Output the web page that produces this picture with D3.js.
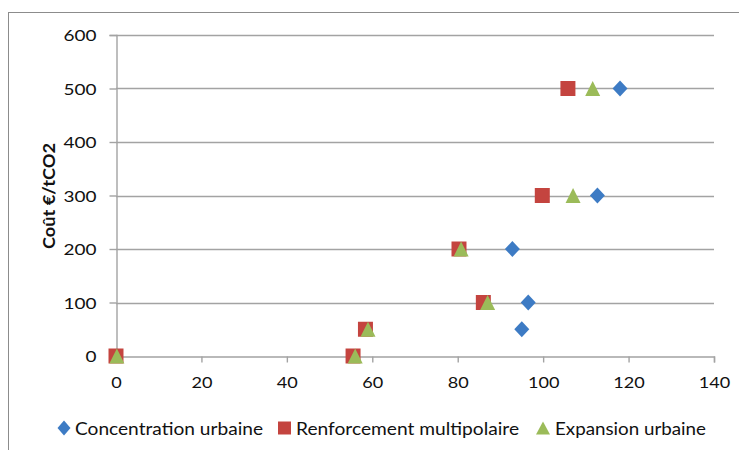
<!DOCTYPE html>
<html>
<head>
<meta charset="utf-8">
<script src="https://cdn.jsdelivr.net/npm/d3@7"></script>
<style>
  html, body { margin: 0; padding: 0; background: #fff; }
  svg { display: block; }
  text { font-family: Lato, "Open Sans", sans-serif; fill: #111; }
</style>
</head>
<body>
<svg id="chart" width="739" height="450"></svg>
<script>
// Cost of abatement (€/tCO2) against reduction, three urban scenarios
const seriesNames = ["Concentration urbaine", "Renforcement multipolaire", "Expansion urbaine"];
const concentrationX = [95, 96.5, 92.8, 112.7, 118];
const concentrationY = [50, 100, 200, 300, 500];
const renforcementX = [0, 55.5, 58.4, 86, 80.3, 99.8, 105.8];
const renforcementY = [0, 0, 50, 100, 200, 300, 500];
const expansionX = [0.2, 56, 59, 87, 80.8, 107, 111.6];
const expansionY = [0, 0, 50, 100, 200, 300, 500];
const xTicks = [0, 20, 40, 60, 80, 100, 120, 140];
const yTicks = [0, 100, 200, 300, 400, 500, 600];
const yTitle = "Coût €/tCO2";

const colors = ["#3d7bc4", "#c4443f", "#9bbb59"];
const gridColor = "#a3a3a3";

const svg = d3.select("#chart");

// outer chart frame (extends past the bottom-right of the view)
svg.append("rect")
  .attr("x", 8.5).attr("y", 12.5)
  .attr("width", 800).attr("height", 500)
  .attr("fill", "none").attr("stroke", "#8c8c8c").attr("stroke-width", 1);

const x = d3.scaleLinear().domain([0, 140]).range([116, 714]);
const y = d3.scaleLinear().domain([0, 600]).range([356, 35]);

// horizontal gridlines
svg.append("g")
  .selectAll("line")
  .data(yTicks.filter(d => d > 0))
  .join("line")
  .attr("x1", x(0)).attr("x2", x(140))
  .attr("y1", d => Math.round(y(d)) + 0.5).attr("y2", d => Math.round(y(d)) + 0.5)
  .attr("stroke", gridColor).attr("stroke-width", 1.4);

// y axis
const yAxis = svg.append("g")
  .attr("transform", `translate(${x(0) + 0.5},0)`)
  .call(d3.axisLeft(y).tickValues(yTicks).tickSize(7).tickPadding(12).tickFormat(d3.format("d")));
yAxis.select(".domain").attr("stroke", gridColor).attr("stroke-width", 1.4);
yAxis.selectAll(".tick line").attr("stroke", gridColor).attr("stroke-width", 1.4);
yAxis.selectAll(".tick text")
  .attr("font-size", 16).attr("dy", "0.36em").attr("x", -20)
  .attr("font-family", "Lato, sans-serif").attr("fill", "#111")
  .each(function (d) {
    const s = String(d);
    d3.select(this).attr("textLength", s.length * 11).attr("lengthAdjust", "spacingAndGlyphs");
  });

// x axis
const xAxis = svg.append("g")
  .attr("transform", `translate(0,${Math.round(y(0)) + 0.5})`)
  .call(d3.axisBottom(x).tickValues(xTicks).tickSize(6).tickPadding(14).tickFormat(d3.format("d")));
xAxis.select(".domain").attr("stroke", gridColor).attr("stroke-width", 1.4);
xAxis.selectAll(".tick line").attr("stroke", gridColor).attr("stroke-width", 1.4);
xAxis.selectAll(".tick text")
  .attr("font-size", 16)
  .attr("font-family", "Lato, sans-serif").attr("fill", "#111")
  .each(function (d) {
    const s = String(d);
    d3.select(this).attr("textLength", s.length * 10.5).attr("lengthAdjust", "spacingAndGlyphs");
  });

// y axis title
svg.append("text")
  .attr("transform", "translate(55,196) rotate(-90)")
  .attr("text-anchor", "middle")
  .attr("font-size", 17.5).attr("font-weight", "bold")
  .attr("textLength", 106).attr("lengthAdjust", "spacingAndGlyphs")
  .text(yTitle);

// marker shapes
const diamond = (w, h) => `M0,${-h / 2}L${w / 2},0L0,${h / 2}L${-w / 2},0Z`;
const square = s => `M${-s / 2},${-s / 2}h${s}v${s}h${-s}Z`;
const triangle = (w, h) => `M0,${-h / 2}L${w / 2},${h / 2}L${-w / 2},${h / 2}Z`;

const series = [
  { xs: concentrationX, ys: concentrationY, path: diamond(15, 16) },
  { xs: renforcementX, ys: renforcementY, path: square(15) },
  { xs: expansionX, ys: expansionY, path: triangle(15, 15) }
];

series.forEach((s, i) => {
  svg.append("g")
    .selectAll("path")
    .data(s.xs.map((v, j) => [v, s.ys[j]]))
    .join("path")
    .attr("transform", d => `translate(${x(d[0])},${y(d[1])})`)
    .attr("d", s.path)
    .attr("fill", colors[i]);
});

// legend
const legendItems = [
  { marker: diamond(13, 15), mx: 64, tx: 75, w: 188 },
  { marker: square(13), mx: 284.5, tx: 296, w: 223 },
  { marker: triangle(14, 13), mx: 543, tx: 555, w: 151 }
];
const legend = svg.append("g");
legendItems.forEach((it, i) => {
  legend.append("path")
    .attr("transform", `translate(${it.mx},428)`)
    .attr("d", it.marker)
    .attr("fill", colors[i]);
  legend.append("text")
    .attr("x", it.tx).attr("y", 435)
    .attr("font-size", 17.5)
    .attr("textLength", it.w).attr("lengthAdjust", "spacingAndGlyphs")
    .text(seriesNames[i]);
});
</script>
</body>
</html>
